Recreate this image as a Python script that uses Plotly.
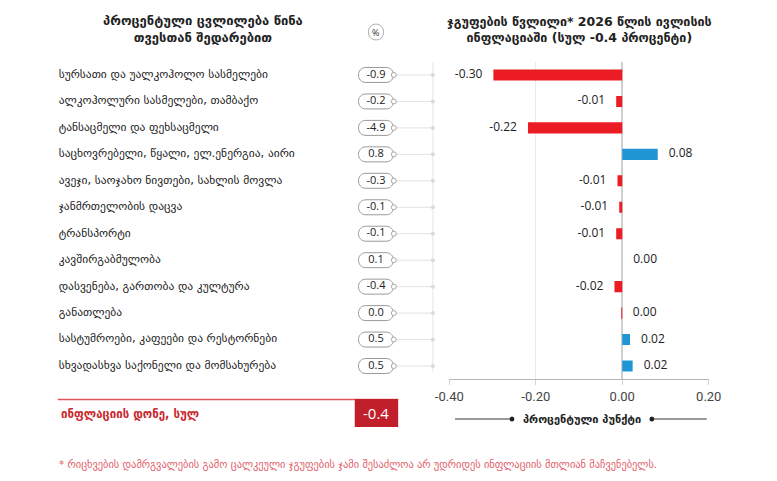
import plotly.graph_objects as go

# ---------------------------------------------------------------------------
# data
# ---------------------------------------------------------------------------
categories = [
    "სურსათი და უალკოჰოლო სასმელები",
    "ალკოჰოლური სასმელები, თამბაქო",
    "ტანსაცმელი და ფეხსაცმელი",
    "საცხოვრებელი, წყალი, ელ.ენერგია, აირი",
    "ავეჯი, საოჯახო ნივთები, სახლის მოვლა",
    "ჯანმრთელობის დაცვა",
    "ტრანსპორტი",
    "კავშირგაბმულობა",
    "დასვენება, გართობა და კულტურა",
    "განათლება",
    "სასტუმროები, კაფეები და რესტორნები",
    "სხვადასხვა საქონელი და მომსახურება",
]
mom_change = [-0.9, -0.2, -4.9, 0.8, -0.3, -0.1, -0.1, 0.1, -0.4, 0.0, 0.5, 0.5]
contribution = [-0.298, -0.014, -0.218, 0.082, -0.011, -0.007, -0.014, 0.0,
                -0.018, -0.001, 0.018, 0.024]
total_inflation = -0.4
x_ticks = [-0.40, -0.20, 0.00, 0.20]

title_left = "პროცენტული ცვლილება წინა<br>თვესთან შედარებით"
title_right = "ჯგუფების წვლილი* 2026 წლის ივლისის<br>ინფლაციაში (სულ -0.4 პროცენტი)"
unit_label = "პროცენტული პუნქტი"
total_label = "ინფლაციის დონე, სულ"
footnote = ("* რიცხვების დამრგვალების გამო ცალკეული ჯგუფების ჯამი შესაძლოა "
            "არ უდრიდეს ინფლაციის მთლიან მაჩვენებელს.")

# ---------------------------------------------------------------------------
# layout helpers: screen pixel -> paper (the page body keeps an 8px margin,
# so the figure is shrunk to fit the window and positions are shifted)
# ---------------------------------------------------------------------------
OFF = 8
W, H = 777 - 2 * OFF, 481 - 2 * OFF
RED = "#ec1c24"
BLUE = "#1f95d3"
DARK_RED = "#c1202b"
GEO = "DejaVu Sans"


def px(x):
    return (x - OFF) / W


def py(y):
    return 1 - (y - OFF) / H


def fmt(v):
    s = f"{v:.2f}"
    return "0.00" if s == "-0.00" else s


labels = [fmt(v) for v in contribution]
label_pos = ["middle left" if float(t) < 0 else "middle right" for t in labels]
bar_colors = [RED if v < 0 else BLUE for v in contribution]

fig = go.Figure()

# contribution bars
fig.add_trace(go.Bar(
    x=contribution, y=categories, orientation="h",
    marker=dict(color=bar_colors, line=dict(width=0)),
    hoverinfo="skip", showlegend=False,
))
fig.add_trace(go.Scatter(
    x=contribution, y=categories, mode="markers+text",
    marker=dict(size=16, opacity=0),
    text=labels, textposition=label_pos,
    textfont=dict(family="Open Sans", size=12, color="#222"),
    cliponaxis=False, hoverinfo="skip", showlegend=False,
))

# left column on a screen-pixel helper axis
n = len(categories)
fig.add_trace(go.Scatter(
    x=[46] * n, y=categories, mode="text", xaxis="x2",
    text=categories, textposition="middle right",
    textfont=dict(family=GEO, size=11.5, color="#222"),
    cliponaxis=False, hoverinfo="skip", showlegend=False,
))
fig.add_trace(go.Scatter(
    x=[375] * n, y=categories, mode="text", xaxis="x2",
    text=[f"{v:.1f}" for v in mom_change], textposition="middle center",
    textfont=dict(family="Open Sans", size=11, color="#222"),
    cliponaxis=False, hoverinfo="skip", showlegend=False,
))
# connector lines from pill to the vertical guide
for c in categories:
    fig.add_trace(go.Scatter(
        x=[395, 434], y=[c, c], mode="lines", xaxis="x2",
        line=dict(color="#e2e2e2", width=1),
        hoverinfo="skip", showlegend=False,
    ))
fig.add_trace(go.Scatter(
    x=[393.5] * n, y=categories, mode="markers", xaxis="x2",
    marker=dict(symbol="circle", size=5, color="white",
                line=dict(color="#a8a8a8", width=1)),
    hoverinfo="skip", showlegend=False,
))
fig.add_trace(go.Scatter(
    x=[434] * n, y=categories, mode="markers", xaxis="x2",
    marker=dict(symbol="circle", size=4, color="#dadada"),
    hoverinfo="skip", showlegend=False,
))

shapes = []
# pill outlines
r, h = 7.5, 10
k = 1.333 * r
pill = (f"M {-h},{r} L {h},{r} C {h + k},{r} {h + k},{-r} {h},{-r} "
        f"L {-h},{-r} C {-h - k},{-r} {-h - k},{r} {-h},{r} Z")
for i in range(n):
    shapes.append(dict(
        type="path", xref="x2", yref="y", xsizemode="pixel", ysizemode="pixel",
        xanchor=375, yanchor=i, path=pill,
        line=dict(color="#9a9a9a", width=1), fillcolor="rgba(0,0,0,0)",
        layer="below",
    ))
# vertical guide next to pills
shapes.append(dict(type="line", xref="paper", yref="paper",
                   x0=px(434), x1=px(434), y0=py(62), y1=py(372),
                   line=dict(color="#e6e6e6", width=1), layer="below"))
# "%" badge
shapes.append(dict(type="circle", xref="paper", yref="paper",
                   x0=px(367), x1=px(383), y0=py(40), y1=py(24),
                   line=dict(color="#b0b0b0", width=1), fillcolor="white"))
# total row
shapes.append(dict(type="line", xref="paper", yref="paper",
                   x0=px(45), x1=px(398), y0=py(399.5), y1=py(399.5),
                   line=dict(color="#e2535b", width=1.5)))
shapes.append(dict(type="rect", xref="paper", yref="paper",
                   x0=px(353), x1=px(398), y0=py(399), y1=py(427),
                   line=dict(width=0), fillcolor=DARK_RED))
# unit label lines
for x0, x1 in [(457, 516), (661, 718)]:
    shapes.append(dict(type="line", xref="paper", yref="paper",
                       x0=px(x0), x1=px(x1), y0=py(419), y1=py(419),
                       line=dict(color="#333", width=1)))
for xc in [516, 661]:
    shapes.append(dict(type="circle", xref="paper", yref="paper",
                       x0=px(xc - 2.5), x1=px(xc + 2.5),
                       y0=py(421.5), y1=py(416.5),
                       line=dict(width=0), fillcolor="#222"))


def note(text, x, y, size, color="#222", family=GEO, xanchor="center"):
    return dict(text=text, x=px(x), y=py(y), xref="paper", yref="paper",
                xanchor=xanchor, yanchor="middle", showarrow=False,
                align="center", font=dict(family=family, size=size, color=color))


annotations = [
    note(f"<b>{title_left}</b>", 196, 29, 13),
    note(f"<b>{title_right}</b>", 586, 29, 12.5),
    note("%", 375, 32, 9, "#333", "Open Sans"),
    note(f"<b>{total_label}</b>", 46, 414, 11.5, "#c8282f", xanchor="left"),
    note(f"{total_inflation:.1f}", 375.5, 413, 15, "white", "Open Sans"),
    note(f"<b>{unit_label}</b>", 588.5, 419, 11),
    note(footnote, 44, 464, 10.4, "#e0606a", xanchor="left"),
]

fig.update_layout(
    width=W, height=H,
    margin=dict(l=0, r=0, t=0, b=0),
    paper_bgcolor="white", plot_bgcolor="rgba(0,0,0,0)",
    bargap=0.58,
    xaxis=dict(
        domain=[px(451), px(720)], range=[-0.40, 0.20],
        tickvals=x_ticks, ticktext=[f"{t:.2f}" for t in x_ticks],
        showgrid=True, gridcolor="#ebebeb", gridwidth=1,
        zeroline=True, zerolinecolor="#cfcfcf", zerolinewidth=1.5,
        showline=True, linecolor="#b5b5b5", linewidth=1,
        ticks="outside", ticklen=5, tickcolor="#d5d5d5",
        tickfont=dict(family="Roboto", size=13, color="#444"),
        anchor="y", fixedrange=True,
    ),
    xaxis2=dict(domain=[0, 1], range=[OFF, W + OFF], anchor="y", visible=False,
                fixedrange=True),
    yaxis=dict(
        domain=[py(379.25), py(61.75)],
        categoryorder="array", categoryarray=categories,
        range=[n - 0.5, -0.5], visible=False, anchor="x", fixedrange=True,
    ),
    shapes=shapes, annotations=annotations,
)

fig.write_html("out.html", config={"displayModeBar": False})
